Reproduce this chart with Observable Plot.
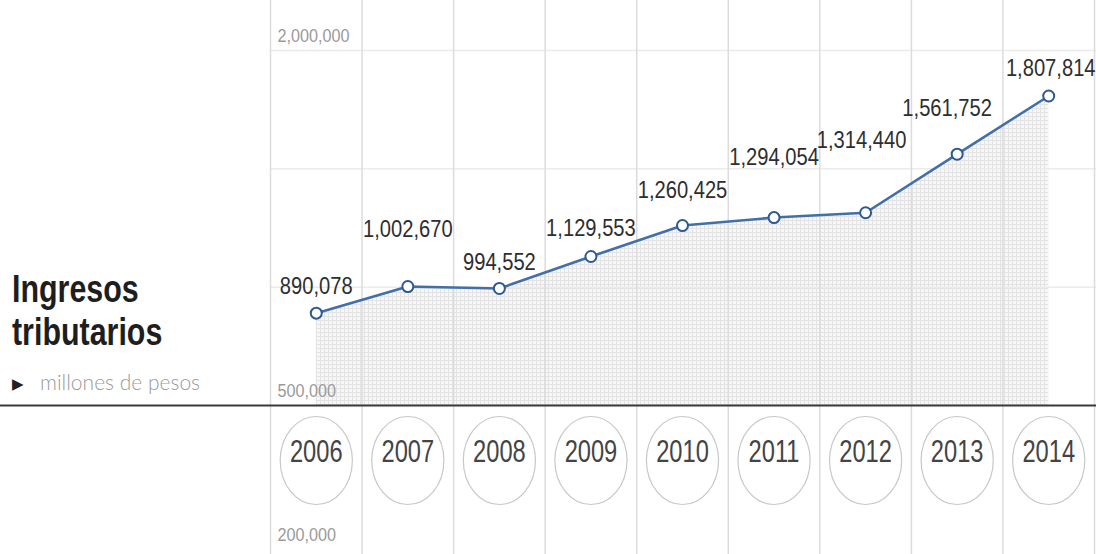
<!DOCTYPE html>
<html>
<head>
<meta charset="utf-8">
<script src="https://cdn.jsdelivr.net/npm/d3@7"></script>
<script src="https://cdn.jsdelivr.net/npm/@observablehq/plot@0.6"></script>
<style>
  html, body { margin: 0; padding: 0; background: #fff; }
  #wrap { position: relative; width: 1096px; height: 554px; overflow: hidden; }
  #title { position: absolute; left: 12px; top: 268px; font-family: "Liberation Sans", Arial, sans-serif; font-weight: bold; font-size: 38px; line-height: 43px; color: #1e1e1e; transform: scaleX(0.8); transform-origin: left top; white-space: nowrap; }
  #sub { position: absolute; left: 12px; top: 369px; font-family: Lato, "Open Sans", sans-serif; font-weight: 300; font-size: 21px; color: #9a9a9a; white-space: nowrap; }
  #sub .tri { color: #222; font-size: 15px; margin-right: 16px; vertical-align: 1px; }
</style>
</head>
<body>
<div id="wrap">
  <div id="chart"></div>
  <div id="title">Ingresos<br>tributarios</div>
  <div id="sub"><span class="tri">&#9654;</span>millones de pesos</div>
</div>
<script>
// ---- data ----
const years = [2006, 2007, 2008, 2009, 2010, 2011, 2012, 2013, 2014];
const values = [890078, 1002670, 994552, 1129553, 1260425, 1294054, 1314440, 1561752, 1807814];
const gridValues = [1000000, 1500000, 2000000];
const baseValue = 500000;
const axisLabelValues = [2000000, 500000];
const bottomLabel = "200,000";

// ---- layout (label lift above each point, px) ----
const labelLift = [27, 57, 26, 28, 35, 60, 72, 46, 28];
const labelShift = [0, 0, 0, 0, 0, 0, -4, -10, 2];

const data = years.map((year, i) => ({year, value: values[i]}));
const fmt = d3.format(",");
const font = '"Liberation Sans", Arial, sans-serif';

const separators = d3.range(years.length + 1).map(i => years[0] - 0.5 + i);

const ellipse = {
  draw(ctx, size) {
    const r = Math.sqrt(size / Math.PI);
    const ry = r, rx = r * 0.82, k = 0.5523;
    ctx.moveTo(rx, 0);
    ctx.bezierCurveTo(rx, ry * k, rx * k, ry, 0, ry);
    ctx.bezierCurveTo(-rx * k, ry, -rx, ry * k, -rx, 0);
    ctx.bezierCurveTo(-rx, -ry * k, -rx * k, -ry, 0, -ry);
    ctx.bezierCurveTo(rx * k, -ry, rx, -ry * k, rx, 0);
    ctx.closePath();
  }
};

const valueLabels = data.map((d, i) => Plot.text([d], {
  x: "year", y: "value", text: d => fmt(d.value),
  dy: -labelLift[i], dx: labelShift[i],
  fontSize: 24, fill: "#2e2e2e", fontFamily: font
}));

const chart = Plot.plot({
  width: 1096,
  height: 554,
  marginTop: 50,
  marginBottom: 149,
  marginLeft: 270,
  marginRight: 2,
  style: {background: "#fff", overflow: "visible"},
  x: {type: "linear", domain: [years[0] - 0.5, years[years.length - 1] + 0.5], axis: null},
  y: {domain: [baseValue, 2000000], axis: null},
  marks: [
    Plot.areaY(data, {x: "year", y1: baseValue, y2: "value", fill: "url(#gridpat)"}),
    Plot.ruleY(gridValues, {stroke: "#ebebeb", strokeWidth: 1.5, insetRight: -2}),
    Plot.ruleX(separators, {stroke: "#dcdcdc", strokeWidth: 1.5, insetTop: -50, insetBottom: -149}),
    Plot.ruleY([baseValue], {stroke: "#3a3a3a", strokeWidth: 2, insetLeft: -270, insetRight: -2}),
    Plot.text(axisLabelValues, {
      y: d => d, text: d => fmt(d), frameAnchor: "left", dx: 7, dy: -14,
      textAnchor: "start", fontSize: 18, fill: "#9a9a9a", fontFamily: font
    }),
    Plot.text([bottomLabel], {
      text: d => d, frameAnchor: "bottom-left", dx: 7, dy: 135,
      textAnchor: "start", fontSize: 18, fill: "#9a9a9a", fontFamily: font
    }),
    Plot.line(data, {x: "year", y: "value", stroke: "#4270a6", strokeWidth: 2.6}),
    Plot.dot(data, {x: "year", y: "value", r: 5.5, fill: "#fff", stroke: "#2d5a8e", strokeWidth: 2}),
    ...valueLabels,
    Plot.dot(years, {x: d => d, frameAnchor: "bottom", dy: 55, r: 44, symbol: ellipse, fill: "none", stroke: "#c8c8c8", strokeWidth: 1.2}),
    Plot.text(years, {x: d => d, text: d => String(d), frameAnchor: "bottom", dy: 56, fontSize: 32, fill: "#444", fontFamily: font})
  ]
});

// condensed look: squeeze text glyphs horizontally around their anchor
const squeeze = {24: 0.84, 32: 0.74, 18: 0.9};
const svg = d3.select(chart);
svg.selectAll("g[aria-label='text']").each(function() {
  const g = d3.select(this);
  const s = squeeze[+g.attr("font-size")] || 1;
  g.selectAll("text").each(function() {
    const t = d3.select(this);
    let tr = t.attr("transform") || "";
    const x = t.attr("x");
    if (x != null && isFinite(+x)) {
      tr += ` translate(${+x},0)`;
      t.attr("x", null);
    }
    t.attr("transform", `${tr} scale(${s},1)`);
  });
});

// pattern for the area texture
const defs = svg.insert("defs", ":first-child");
const pat = defs.append("pattern").attr("id", "gridpat").attr("patternUnits", "userSpaceOnUse")
  .attr("width", 4).attr("height", 4);
pat.append("rect").attr("width", 4).attr("height", 4).attr("fill", "#f7f7f7");
pat.append("path").attr("d", "M0,0.5H4M0.5,0V4").attr("stroke", "#e3e3e3").attr("stroke-width", 1).attr("fill", "none");

document.getElementById("chart").appendChild(chart);
</script>
</body>
</html>
